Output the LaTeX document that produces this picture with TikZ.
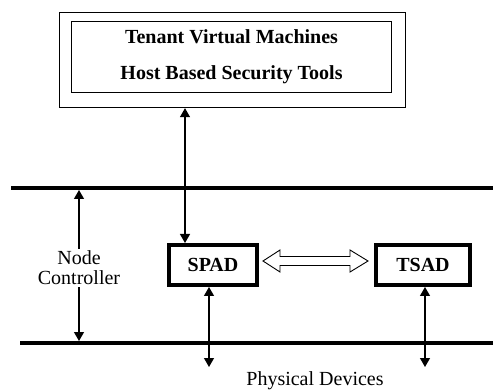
\documentclass[tikz,border=0pt]{standalone}
\usepackage{fontspec}
\setmainfont{Liberation Serif}
\usetikzlibrary{arrows.meta,calc}
\begin{document}
\begin{tikzpicture}[x=1pt,y=-1pt,
  arr/.style={line width=1.2pt,{Triangle[length=9pt,width=10pt]}-{Triangle[length=9pt,width=10pt]}},
  busline/.style={line width=3.5pt},
  boxthin/.style={draw,line width=1.3pt,inner sep=0pt},
  devbox/.style={draw,line width=4pt,minimum height=40pt,font=\fontsize{20}{24}\selectfont\bfseries},
  lbl/.style={font=\fontsize{20}{20}\selectfont,align=center}]
\useasboundingbox (0,0) rectangle (493,390);
% top boxes
\node[boxthin,minimum width=346pt,minimum height=95pt] (outer) at (232.5,60) {};
\node[boxthin,minimum width=320pt,minimum height=71pt,align=center,
  font=\fontsize{20}{36}\selectfont\bfseries] (inner) at (231.5,57)
  {Tenant Virtual Machines\\Host Based Security Tools};
% bus lines
\coordinate (t1) at (11,188); \coordinate (t2) at (493,188);
\coordinate (b1) at (20,343); \coordinate (b2) at (493,343);
\draw[busline] (t1) -- (t2);
\draw[busline] (b1) -- (b2);
% devices
\node[devbox,minimum width=88pt] (spad) at (213,265) {SPAD};
\node[devbox,minimum width=94pt] (tsad) at (423,265) {TSAD};
% top connector
\coordinate (topa) at ($(spad.north west)+(18,0)$);
\draw[arr] (topa |- outer.south) -- (topa);
% node controller
\coordinate (nc1) at (79,190); \coordinate (nc2) at (79,341);
\draw[arr] (nc1) -- (nc2);
\node[lbl,fill=white,inner sep=2pt] (nc) at (79,268) {Node\\Controller};
% hollow double arrow
\coordinate (hl) at ($(spad.east)+(4,-4)$);
\coordinate (hr) at ($(tsad.west)+(-6,-4)$);
\draw[line width=0.9pt,fill=white] (hl) -- ++(17,-11) -- ++(0,6.5) -- ($(hr)+(-18,-4.5)$)
  -- ++(0,-6.5) -- (hr) -- ++(-18,11) -- ++(0,-6.5) -- ($(hl)+(17,4.5)$) -- ++(0,6.5) -- cycle;
% physical devices connectors
\coordinate (pa) at ($(spad.south west)+(42,0)$);
\coordinate (pb) at ($(tsad.south west)+(51,0)$);
\coordinate (pa2) at ($(pa)+(0,80)$);
\coordinate (pb2) at ($(pb)+(0,80)$);
\draw[arr] (pa) -- (pa2);
\draw[arr] (pb) -- (pb2);
\node[lbl] (pd) at (315,381) {Physical Devices};
\end{tikzpicture}
\end{document}
